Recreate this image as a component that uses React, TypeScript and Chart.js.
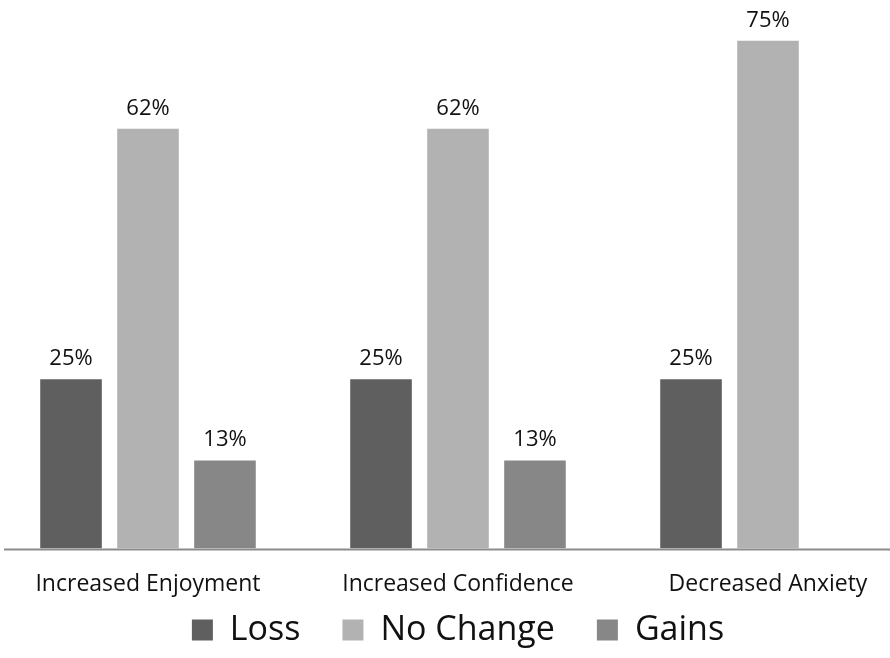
import React, { useEffect, useRef } from "react";
import { Chart, registerables } from "chart.js";

Chart.register(...registerables);

const categories = ["Increased Enjoyment", "Increased Confidence", "Decreased Anxiety"];
const lossValues = [25, 25, 25];
const noChangeValues = [62, 62, 75];
const gainsValues: (number | null)[] = [13, 13, null];
const seriesNames = ["Loss", "No Change", "Gains"];
const seriesColors = ["#5f5f5f", "#b2b2b2", "#878787"];

const FONT = "'Open Sans', sans-serif";
const CANVAS_SHIFT = 7; // canvas is shifted left so the plot is wider than the view
const LEGEND_GAP = "\u00a0\u00a0\u00a0\u00a0\u2009";

const valueLabels = {
  id: "valueLabels",
  afterDatasetsDraw(chart: any) {
    const ctx = chart.ctx;
    ctx.save();
    ctx.font = "22px " + FONT;
    ctx.fillStyle = "#111";
    ctx.textAlign = "center";
    ctx.textBaseline = "alphabetic";
    chart.data.datasets.forEach((ds: any, i: number) => {
      const meta = chart.getDatasetMeta(i);
      meta.data.forEach((bar: any, j: number) => {
        const v = ds.data[j];
        if (v === null || v === undefined) return;
        ctx.fillText(v + "%", bar.x, bar.y - 14);
      });
    });
    ctx.restore();
  },
};

const axisLine = {
  id: "axisLine",
  afterDatasetsDraw(chart: any) {
    const ctx = chart.ctx;
    const a = chart.chartArea;
    ctx.save();
    ctx.strokeStyle = "#8c8c8c";
    ctx.lineWidth = 2;
    ctx.beginPath();
    ctx.moveTo(CANVAS_SHIFT + 4, a.bottom + 1);
    ctx.lineTo(chart.width, a.bottom + 1);
    ctx.stroke();
    ctx.restore();
  },
};

export default function App() {
  const ref = useRef<HTMLCanvasElement>(null);
  useEffect(() => {
    if (!ref.current) return;
    const chart = new Chart(ref.current, {
      type: "bar",
      data: {
        labels: categories,
        datasets: [lossValues, noChangeValues, gainsValues].map((d, i) => ({
          label: seriesNames[i],
          data: d,
          backgroundColor: seriesColors[i],
          borderWidth: 0,
          categoryPercentage: 0.745,
          barPercentage: 0.8,
        })),
      },
      options: {
        animation: false,
        responsive: false,
        maintainAspectRatio: false,
        layout: { padding: { top: 7, left: 0, right: 30, bottom: 0 } },
        scales: {
          x: {
            grid: { display: false },
            border: { display: false },
            ticks: {
              color: "#111",
              padding: 14,
              font: { family: FONT, size: 23 },
            },
          },
          y: {
            display: false,
            min: 0,
            max: 80,
          },
        },
        plugins: {
          legend: {
            position: "bottom",
            labels: {
              color: "#111",
              boxWidth: 21,
              boxHeight: 21,
              padding: 1,
              font: { family: FONT, size: 34 },
              generateLabels(chart: any) {
                const items = Chart.defaults.plugins.legend.labels.generateLabels(chart);
                return items.map((it: any, i: number) => ({
                  ...it,
                  text: i < items.length - 1 ? it.text + LEGEND_GAP : it.text,
                }));
              },
            },
          },
          tooltip: { enabled: false },
        },
      },
      plugins: [valueLabels, axisLine],
    });
    return () => chart.destroy();
  }, []);
  return (
    <div style={{ position: "fixed", left: 0, top: 0, width: 890, height: 658, background: "#fff", overflow: "hidden" }}>
      <canvas
        ref={ref}
        width={960}
        height={657}
        style={{ position: "absolute", left: -CANVAS_SHIFT, top: 0 }}
      />
    </div>
  );
}
